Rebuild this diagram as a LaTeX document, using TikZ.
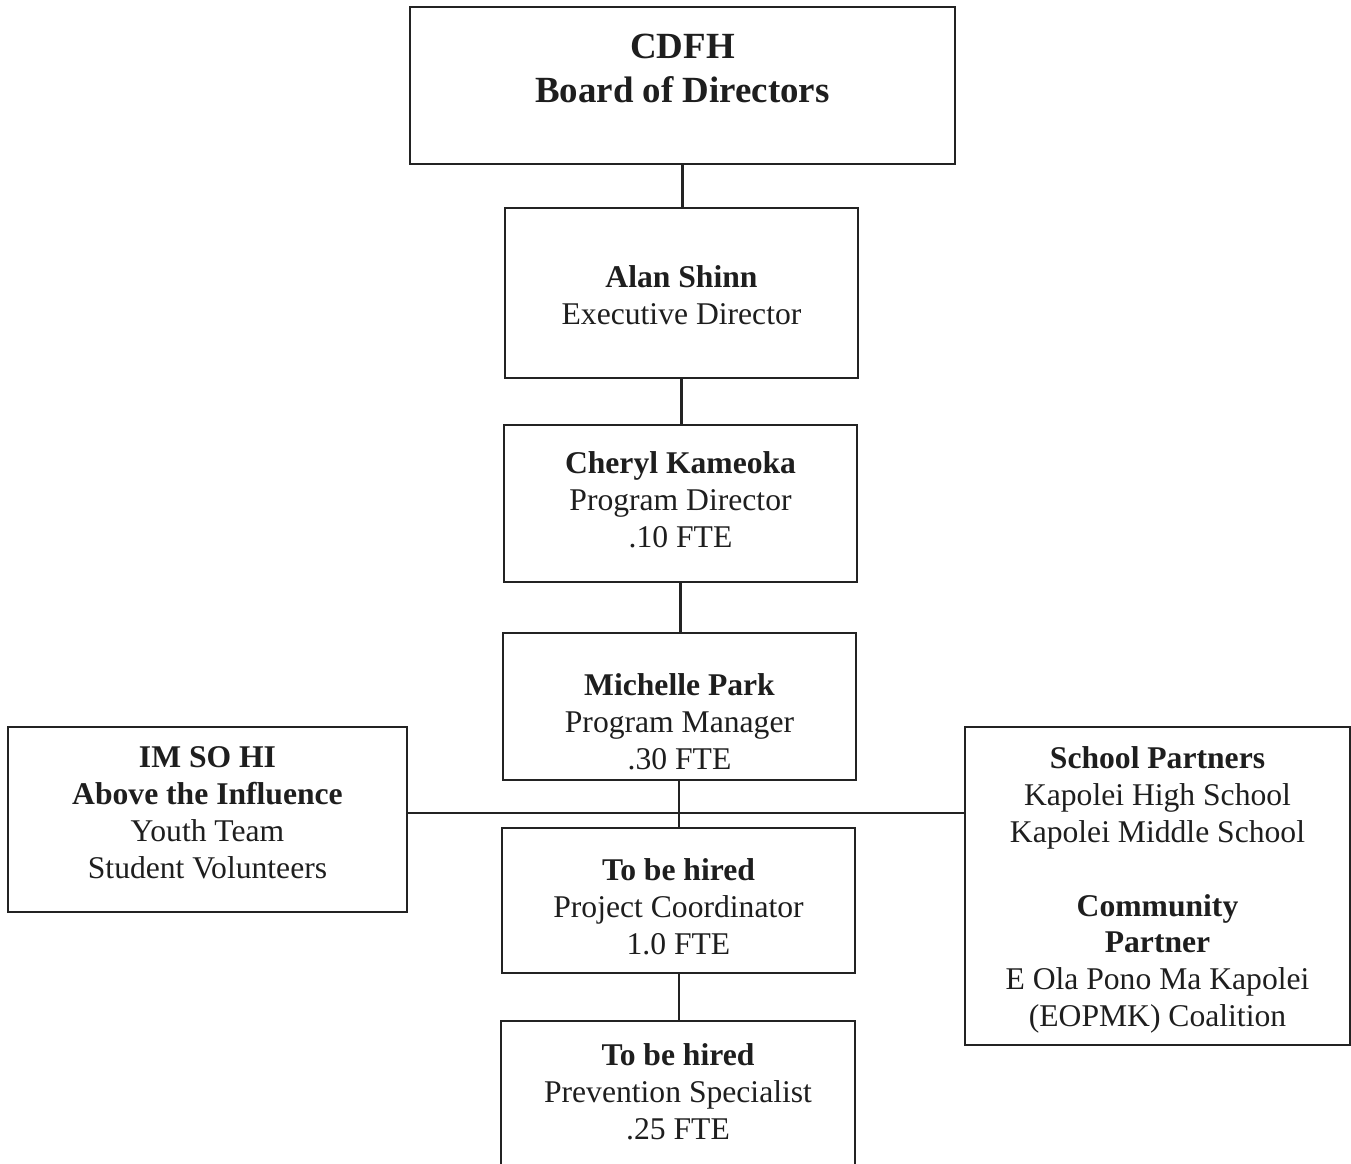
\documentclass[tikz,border=0pt]{standalone}
\usepackage{fontspec}
\setmainfont{Liberation Serif}
\usetikzlibrary{positioning,calc}
\definecolor{orgline}{RGB}{35,35,35}
\definecolor{orgtext}{RGB}{30,30,30}
\tikzset{
  org/.style={font=\fontsize{18}{21}\selectfont, text=orgtext},
  orgbox/.style 2 args={
    draw=orgline, line width=1.3pt, minimum width=#1, minimum height=#2,
    inner sep=0pt
  },
  orgtxt/.style={org, align=center, inner sep=0pt},
  orgline/.style={draw=orgline, line width=1.2pt},
}

\begin{document}
\begin{tikzpicture}[x=0.02cm, y=-0.02cm, org]
    \useasboundingbox (0,0) rectangle (1351,1163);

    % Linea central
    \node[orgbox={10.9cm}{3.14cm},
      label={[orgtxt, font=\fontsize{21}{25}\selectfont\bfseries, yshift=0.35cm]center:CDFH\\Board of Directors}]
      (board) at (682.5,85.5) {};
    \node[orgbox={7.06cm}{3.4cm},
      label={[orgtxt, yshift=-0.05cm]center:\textbf{Alan Shinn}\\Executive Director}]
      (alan) at (681.5,293) {};
    \node[orgbox={7.06cm}{3.14cm},
      label={[orgtxt, yshift=0.07cm]center:\textbf{Cheryl Kameoka}\\Program Director\\.10 FTE}]
      (cheryl) at (680.5,503.5) {};
    \node[orgbox={7.06cm}{2.94cm},
      label={[orgtxt, yshift=-0.31cm]center:\textbf{Michelle Park}\\Program Manager\\.30 FTE}]
      (michelle) at (679.5,706.5) {};
    \node[orgbox={7.06cm}{2.9cm},
      label={[orgtxt, yshift=-0.13cm]center:\textbf{To be hired}\\Project Coordinator\\1.0 FTE}]
      (coord) at (678.5,900.5) {};
    \node[orgbox={7.08cm}{3.08cm},
      label={[orgtxt, yshift=0.12cm]center:\textbf{To be hired}\\Prevention Specialist\\.25 FTE}]
      (spec) at (678,1098) {};

    % Lados
    \node[orgbox={7.98cm}{3.7cm},
      label={[orgtxt, yshift=0.13cm]center:\textbf{IM SO HI}\\\textbf{Above the Influence}\\Youth Team\\Student Volunteers}]
      (youth) at (207.5,819.5) {};
    \node[orgbox={7.7cm}{6.36cm},
      label={[orgtxt, yshift=-0.08cm]center:\textbf{School Partners}\\Kapolei High School\\Kapolei Middle School\\[21pt]\textbf{Community}\\\textbf{Partner}\\E Ola Pono Ma Kapolei\\(EOPMK) Coalition}]
      (partners) at (1157.5,886) {};

    % Conexiones
    \coordinate (hub) at (679,813);
    \draw[orgline] (board.south) -- (board.south |- alan.north);
    \draw[orgline] (alan.south) -- (alan.south |- cheryl.north);
    \draw[orgline] (cheryl.south) -- (cheryl.south |- michelle.north);
    \draw[orgline] (hub |- michelle.south) -- (hub |- coord.north);
    \draw[orgline] (hub |- coord.south) -- (hub |- spec.north);
    \draw[orgline] (youth.east |- hub) -- (partners.west |- hub);
  \end{tikzpicture}
\end{document}
